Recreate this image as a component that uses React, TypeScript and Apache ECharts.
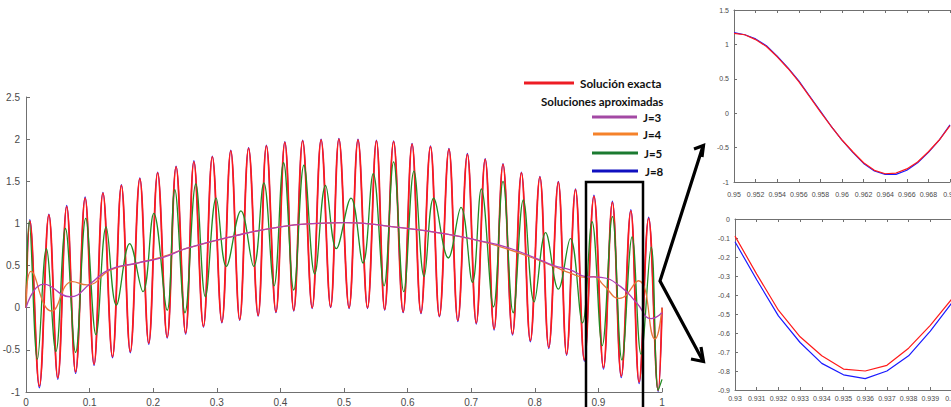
import React, { useEffect, useRef } from "react";
import * as echarts from "echarts";

// ---- Main chart: exact solution (extrema) ----
const exactX = [0, 0.006, 0.021, 0.036, 0.050, 0.064, 0.078, 0.093, 0.107, 0.121, 0.136, 0.150, 0.164, 0.179, 0.193, 0.207, 0.222, 0.236, 0.251, 0.264, 0.279, 0.293, 0.308, 0.322, 0.336, 0.350, 0.365, 0.378, 0.393, 0.407, 0.421, 0.435, 0.450, 0.464, 0.479, 0.492, 0.508, 0.522, 0.537, 0.551, 0.564, 0.578, 0.593, 0.607, 0.621, 0.636, 0.650, 0.665, 0.679, 0.694, 0.708, 0.722, 0.736, 0.750, 0.765, 0.779, 0.793, 0.808, 0.822, 0.837, 0.850, 0.864, 0.878, 0.893, 0.908, 0.922, 0.936, 0.951, 0.964, 0.979, 0.994, 1.0];
const exactY = [0, 1.03, -0.93, 1.10, -0.83, 1.20, -0.76, 1.30, -0.67, 1.36, -0.58, 1.45, -0.52, 1.53, -0.42, 1.60, -0.35, 1.67, -0.30, 1.73, -0.22, 1.79, -0.17, 1.86, -0.14, 1.89, -0.09, 1.92, -0.05, 1.96, -0.03, 1.98, 0.0, 1.99, 0.01, 2.0, 0.0, 1.99, 0.0, 1.98, -0.02, 1.97, -0.05, 1.94, -0.06, 1.91, -0.10, 1.88, -0.15, 1.82, -0.18, 1.76, -0.25, 1.70, -0.31, 1.60, -0.39, 1.55, -0.47, 1.49, -0.55, 1.40, -0.62, 1.32, -0.71, 1.25, -0.81, 1.15, -0.88, 1.06, -0.98, 0.0];
// J=8 (same abscissae as the exact solution)
const j8Y = [0, 1.045, -0.95, 1.11, -0.85, 1.215, -0.78, 1.315, -0.685, 1.37, -0.595, 1.46, -0.535, 1.54, -0.435, 1.61, -0.36, 1.68, -0.315, 1.745, -0.23, 1.80, -0.18, 1.87, -0.15, 1.90, -0.10, 1.93, -0.06, 1.97, -0.04, 1.99, -0.01, 2.0, 0.0, 2.01, -0.01, 2.0, -0.01, 1.99, -0.03, 1.98, -0.06, 1.95, -0.07, 1.92, -0.11, 1.89, -0.165, 1.83, -0.195, 1.77, -0.265, 1.71, -0.325, 1.61, -0.405, 1.56, -0.485, 1.50, -0.565, 1.41, -0.635, 1.335, -0.73, 1.265, -0.83, 1.165, -0.90, 1.075, -0.995, 0.0];
// J=5
const j5X = [0, 0.005, 0.018, 0.032, 0.047, 0.062, 0.078, 0.094, 0.110, 0.126, 0.142, 0.163, 0.184, 0.201, 0.222, 0.234, 0.250, 0.267, 0.282, 0.299, 0.315, 0.338, 0.358, 0.374, 0.390, 0.405, 0.421, 0.437, 0.454, 0.471, 0.488, 0.511, 0.530, 0.546, 0.563, 0.578, 0.594, 0.610, 0.626, 0.641, 0.664, 0.684, 0.702, 0.716, 0.735, 0.750, 0.766, 0.782, 0.799, 0.817, 0.837, 0.856, 0.875, 0.890, 0.906, 0.922, 0.937, 0.953, 0.967, 0.983, 0.994, 1.0];
const j5Y = [0, 1.02, -0.61, 0.70, -0.52, 0.94, -0.53, 1.06, -0.32, 0.96, 0.03, 0.76, 0.19, 1.12, -0.03, 1.40, -0.06, 1.47, 0.13, 1.30, 0.49, 1.15, 0.49, 1.48, 0.26, 1.72, 0.21, 1.69, 0.40, 1.45, 0.70, 1.30, 0.53, 1.59, 0.26, 1.73, 0.19, 1.62, 0.37, 1.30, 0.59, 1.19, 0.30, 1.41, 0.01, 1.50, -0.06, 1.28, 0.07, 0.89, 0.22, 0.82, -0.18, 1.02, -0.45, 1.08, -0.62, 0.84, -0.55, 0.72, -0.98, -0.85];
// J=4
const j4X = [0, 0.008, 0.040, 0.073, 0.096, 0.133, 0.175, 0.217, 0.251, 0.327, 0.400, 0.458, 0.503, 0.578, 0.657, 0.710, 0.755, 0.804, 0.830, 0.856, 0.880, 0.893, 0.908, 0.933, 0.963, 0.989, 1.0];
const j4Y = [0, 0.43, -0.04, 0.31, 0.27, 0.45, 0.53, 0.61, 0.70, 0.85, 0.96, 1.00, 1.01, 0.96, 0.88, 0.80, 0.70, 0.57, 0.49, 0.41, 0.36, 0.37, 0.27, 0.11, 0.32, -0.37, 0.0];
// J=3
const j3X = [0, 0.028, 0.069, 0.102, 0.130, 0.175, 0.217, 0.251, 0.327, 0.400, 0.458, 0.503, 0.578, 0.657, 0.710, 0.755, 0.804, 0.830, 0.856, 0.880, 0.904, 0.935, 0.961, 0.983, 1.0];
const j3Y = [0, 0.28, 0.13, 0.29, 0.45, 0.53, 0.60, 0.70, 0.85, 0.96, 1.00, 1.01, 0.96, 0.88, 0.80, 0.72, 0.58, 0.50, 0.45, 0.37, 0.36, 0.25, 0.05, -0.13, -0.06];

// ---- Inset 1 (0.95 - 0.97) ----
const zoom1X = [0.950, 0.951, 0.952, 0.953, 0.954, 0.955, 0.956, 0.957, 0.958, 0.959, 0.960, 0.961, 0.962, 0.963, 0.964, 0.965, 0.966, 0.967, 0.968, 0.969, 0.970];
const zoom1Exact = [1.16, 1.14, 1.07, 0.97, 0.82, 0.65, 0.46, 0.24, 0.02, -0.19, -0.39, -0.56, -0.72, -0.83, -0.88, -0.87, -0.81, -0.71, -0.56, -0.39, -0.18];
const zoom1J8 = [1.17, 1.14, 1.08, 0.98, 0.83, 0.66, 0.47, 0.25, 0.03, -0.19, -0.39, -0.57, -0.73, -0.84, -0.89, -0.89, -0.83, -0.72, -0.57, -0.39, -0.17];

// ---- Inset 2 (0.93 - 0.94) ----
const zoom2X = [0.930, 0.931, 0.932, 0.933, 0.934, 0.935, 0.936, 0.937, 0.938, 0.939, 0.940];
const zoom2Exact = [-0.09, -0.29, -0.48, -0.62, -0.72, -0.79, -0.80, -0.77, -0.68, -0.56, -0.42];
const zoom2J8 = [-0.12, -0.32, -0.51, -0.65, -0.76, -0.82, -0.84, -0.80, -0.72, -0.59, -0.44];

const legendLabels = ["Solución exacta", "Soluciones aproximadas", "J=3", "J=4", "J=5", "J=8"];

const C_RED = "#ff1a1a";
const C_BLUE = "#1a1aff";
const C_GREEN = "#228b22";
const C_ORANGE = "#e8763a";
const C_PURPLE = "#b03fb5";

const zip = (xs: number[], ys: number[]) => xs.map((x, i) => [x, ys[i]]);

const FONT = "Liberation Sans";
const AX = "#707070";
const LBL = "#4a4a4a";

function valueAxis(extra: any) {
  return {
    type: "value",
    axisLine: { show: true, onZero: false, lineStyle: { color: AX, width: 1 } },
    axisTick: { show: true, inside: true, length: 4, lineStyle: { color: AX } },
    splitLine: { show: false },
    axisLabel: { color: LBL, fontFamily: FONT, fontSize: 10 },
    ...extra,
  };
}

export default function App() {
  const ref = useRef<HTMLDivElement>(null);
  useEffect(() => {
    if (!ref.current) return;
    const chart = echarts.init(ref.current, null, { renderer: "svg" });
    const line = (name: string, data: any, color: string, width: number, xi: number, yi: number, smooth: any) => ({
      type: "line",
      name,
      data,
      xAxisIndex: xi,
      yAxisIndex: yi,
      showSymbol: false,
      symbol: "none",
      smooth,
      lineStyle: { color, width },
      itemStyle: { color },
    });
    const inLbl = { color: LBL, fontFamily: FONT, fontSize: 7 };
    const smallTick = { show: true, inside: true, length: 3, lineStyle: { color: AX } };
    const option: any = {
      animation: false,
      backgroundColor: "#ffffff",
      grid: [
        { left: 26, top: 97, width: 636, height: 295, outerBoundsMode: "none", containLabel: false },
        { left: 734, top: 10, width: 216, height: 172, outerBoundsMode: "none", containLabel: false },
        { left: 735, top: 219, width: 217, height: 171, outerBoundsMode: "none", containLabel: false },
      ],
      xAxis: [
        valueAxis({ gridIndex: 0, min: 0, max: 1, interval: 0.1, axisLabel: { color: LBL, fontFamily: FONT, fontSize: 10, margin: 5 } }),
        valueAxis({ gridIndex: 1, min: 0.95, max: 0.97, interval: 0.002, axisTick: smallTick, axisLabel: { ...inLbl, margin: 9 } }),
        valueAxis({ gridIndex: 2, min: 0.93, max: 0.94, interval: 0.001, axisTick: smallTick, axisLabel: { ...inLbl, margin: 5 } }),
        valueAxis({ gridIndex: 1, position: "top", min: 0.95, max: 0.97, interval: 0.002, axisTick: smallTick, axisLabel: { show: false } }),
        valueAxis({ gridIndex: 2, position: "top", min: 0.93, max: 0.94, interval: 0.001, axisTick: smallTick, axisLabel: { show: false } }),
      ],
      yAxis: [
        valueAxis({ gridIndex: 0, min: -1, max: 2.5, interval: 0.5, axisLabel: { color: LBL, fontFamily: FONT, fontSize: 10, margin: 6 } }),
        valueAxis({ gridIndex: 1, min: -1, max: 1.5, interval: 0.5, axisTick: smallTick, axisLabel: { ...inLbl, margin: 5 } }),
        valueAxis({ gridIndex: 2, min: -0.9, max: 0, interval: 0.1, axisTick: smallTick, axisLabel: { ...inLbl, margin: 5 } }),
      ],
      series: [
        line("J=8", zip(exactX, j8Y), C_BLUE, 1.2, 0, 0, 0.4),
        line("Solución exacta", zip(exactX, exactY), C_RED, 1.8, 0, 0, 0.4),
        line("J=5", zip(j5X, j5Y), C_GREEN, 1.3, 0, 0, 0.4),
        line("J=4", zip(j4X, j4Y), C_ORANGE, 1.3, 0, 0, 0.5),
        line("J=3", zip(j3X, j3Y), C_PURPLE, 1.3, 0, 0, 0.5),
        line("J=8 zoom1", zip(zoom1X, zoom1J8), C_BLUE, 1.2, 1, 1, false),
        line("Exacta zoom1", zip(zoom1X, zoom1Exact), C_RED, 1.2, 1, 1, false),
        line("J=8 zoom2", zip(zoom2X, zoom2J8), C_BLUE, 1.2, 2, 2, false),
        line("Exacta zoom2", zip(zoom2X, zoom2Exact), C_RED, 1.2, 2, 2, false),
      ],
      graphic: [
        // legend
        { type: "line", shape: { x1: 524, y1: 83, x2: 574, y2: 83 }, style: { stroke: "#ed1c24", lineWidth: 3 } },
        { type: "text", x: 580, y: 83, style: { text: legendLabels[0], font: "bold 11.7px Lato", fill: "#111", verticalAlign: "middle" } },
        { type: "text", x: 541, y: 101, style: { text: legendLabels[1], font: "bold 11.5px Lato", fill: "#111", verticalAlign: "middle" } },
        { type: "line", shape: { x1: 592, y1: 117, x2: 637, y2: 117 }, style: { stroke: "#a349a4", lineWidth: 3 } },
        { type: "text", x: 643, y: 117, style: { text: legendLabels[2], font: "bold 11.5px Lato", fill: "#111", verticalAlign: "middle" } },
        { type: "line", shape: { x1: 593, y1: 134, x2: 638, y2: 134 }, style: { stroke: "#f5822a", lineWidth: 3 } },
        { type: "text", x: 643, y: 134, style: { text: legendLabels[3], font: "bold 11.5px Lato", fill: "#111", verticalAlign: "middle" } },
        { type: "line", shape: { x1: 592, y1: 153, x2: 638, y2: 153 }, style: { stroke: "#1b7a30", lineWidth: 3 } },
        { type: "text", x: 644, y: 153, style: { text: legendLabels[4], font: "bold 11.5px Lato", fill: "#111", verticalAlign: "middle" } },
        { type: "line", shape: { x1: 592, y1: 171, x2: 638, y2: 171 }, style: { stroke: "#1010c0", lineWidth: 3 } },
        { type: "text", x: 645, y: 171, style: { text: legendLabels[5], font: "bold 11.5px Lato", fill: "#111", verticalAlign: "middle" } },
        // zoom box
        { type: "rect", z: 10, shape: { x: 586, y: 182, width: 57, height: 240 }, style: { fill: "none", stroke: "#000", lineWidth: 2.5 } },
        // arrows
        { type: "polyline", z: 10, shape: { points: [[703, 146], [660, 281], [703, 361]] }, style: { fill: "none", stroke: "#000", lineWidth: 3.2 } },
        { type: "polyline", z: 10, shape: { points: [[694, 149], [703.5, 145.5], [702, 157]] }, style: { fill: "none", stroke: "#000", lineWidth: 3.2 } },
        { type: "polyline", z: 10, shape: { points: [[691, 359], [703.5, 361.5], [701, 347]] }, style: { fill: "none", stroke: "#000", lineWidth: 3.2 } },
      ],
    };
    chart.setOption(option);
    return () => chart.dispose();
  }, []);
  return (
    <div
      ref={ref}
      style={{ position: "fixed", left: 0, top: 0, width: 951, height: 407, background: "#fff" }}
    />
  );
}
